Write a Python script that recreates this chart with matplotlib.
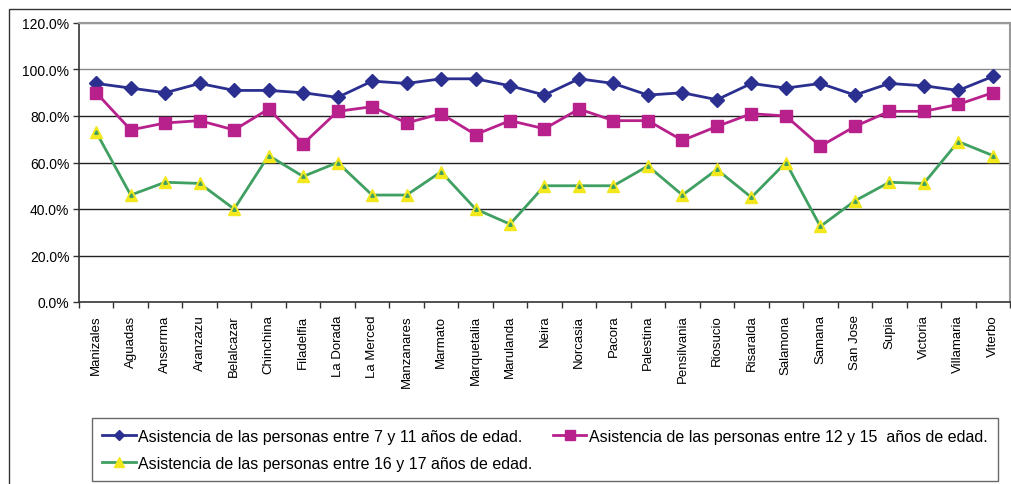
import matplotlib
matplotlib.use("Agg")
import matplotlib.pyplot as plt
from matplotlib.patches import Rectangle
from matplotlib.ticker import FixedLocator, NullFormatter

categories = ["Manizales", "Aguadas", "Anserrma", "Aranzazu", "Belalcazar", "Chinchina",
              "Filadelfia", "La Dorada", "La Merced", "Manzanares", "Marmato", "Marquetalia",
              "Marulanda", "Neira", "Norcasia", "Pacora", "Palestina", "Pensilvania",
              "Riosucio", "Risaralda", "Salamona", "Samana", "San Jose", "Supia",
              "Victoria", "Villamaria", "Viterbo"]

edad_7_11 = [94, 92, 90, 94, 91, 91, 90, 88, 95, 94, 96, 96, 93, 89, 96, 94, 89, 90,
             87, 94, 92, 94, 89, 94, 93, 91, 97]
edad_12_15 = [90, 74, 77, 78, 74, 83, 68, 82, 84, 77, 81, 72, 78, 74.5, 83, 78, 78, 69.5,
              75.5, 81, 80, 67, 75.5, 82, 82, 85, 90]
edad_16_17 = [73, 46, 51.5, 51, 40, 63, 54, 60, 46, 46, 56, 40, 33.5, 50, 50, 50, 58.5, 46,
              57, 45, 60, 32.5, 43.5, 51.5, 51, 69, 63]

labels = ["Asistencia de las personas entre 7 y 11 años de edad.",
          "Asistencia de las personas entre 12 y 15  años de edad.",
          "Asistencia de las personas entre 16 y 17 años de edad."]
yticks = [0, 20, 40, 60, 80, 100, 120]

plt.rcParams['font.family'] = ['Liberation Sans', 'DejaVu Sans']

W, H = 1012, 485
fig = plt.figure(figsize=(W / 100, H / 100), dpi=100)
fig.patch.set_facecolor('white')

# outer frame
fig.patches.append(Rectangle((9 / W, -0.2), 1.2, 1 - 10 / H + 0.2, transform=fig.transFigure,
                             fill=False, edgecolor='#333333', linewidth=1.0))

ax = fig.add_axes([79 / W, 1 - 303 / H, (1010 - 79) / W, (303 - 24) / H])
x = list(range(len(categories)))

blue = '#2B3090'
mag = '#B8208C'
green = '#3FA062'
yellow = '#F2E81C'

l1, = ax.plot(x, edad_7_11, color=blue, lw=2, marker='D', ms=7, mfc=blue, mec=blue, zorder=4)
l2, = ax.plot(x, edad_12_15, color=mag, lw=2, marker='s', ms=9, mfc=mag, mec=mag, zorder=4)
l3, = ax.plot(x, edad_16_17, color=green, lw=2, marker='^', ms=9, mfc=yellow, mec=yellow, zorder=4)
ax.plot(x, edad_16_17, ls='none', marker='^', ms=2.5, mfc=green, mec=green, zorder=5)

ax.set_xlim(-0.5, len(categories) - 0.5)
ax.set_ylim(0, 120)
ax.set_yticks(yticks)
ax.set_yticklabels([f"{v:.1f}%" for v in yticks], fontsize=10)
for v in yticks[1:]:
    ax.axhline(v, color='#888888' if v >= 100 else '#222222', lw=1.0, zorder=1)

ax.set_xticks(x)
ax.set_xticklabels(categories, rotation=90, fontsize=9.5, va='top', ha='center')
ax.tick_params(axis='x', length=0, pad=9)
ax.xaxis.set_minor_locator(FixedLocator([i - 0.5 for i in range(len(categories) + 1)]))
ax.xaxis.set_minor_formatter(NullFormatter())
ax.tick_params(axis='x', which='minor', length=4, width=1, color='#333333')
ax.tick_params(axis='y', length=4, width=1, color='#333333', pad=3)

for s in ['left', 'bottom']:
    ax.spines[s].set_color('#333333')
    ax.spines[s].set_linewidth(1.2)
for s in ['top', 'right']:
    ax.spines[s].set_color('#999999')
    ax.spines[s].set_linewidth(1.5)

leg = fig.legend([l1, l3, l2], [labels[0], labels[2], labels[1]], ncol=2, loc='lower left',
                 bbox_to_anchor=(92 / W, 3 / H, 906 / W, 64 / H), mode='expand',
                 fontsize=11.5, frameon=True, fancybox=False, edgecolor='#444444',
                 handlelength=2.1, handletextpad=0.15, borderaxespad=0, markerscale=0.8,
                 labelspacing=0.75, borderpad=0.65, columnspacing=1.0)
leg.get_frame().set_linewidth(1.0)

fig.savefig('out.png', dpi=100, facecolor='white')
